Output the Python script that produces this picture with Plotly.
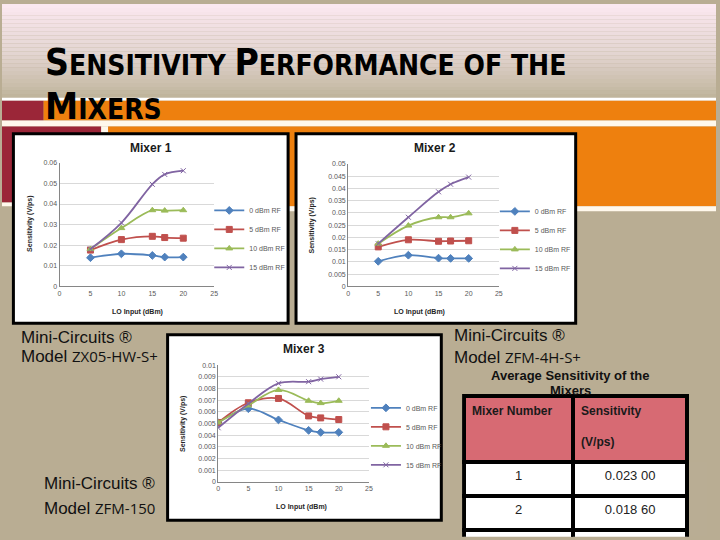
import plotly.graph_objects as go

# ── Data ─────────────────────────────────────────────────────────────────────
LO_INPUT_12 = [5, 10, 15, 17, 20]          # dBm, mixers 1 and 2
LO_INPUT_3 = [0, 5, 10, 15, 17, 20]        # dBm, mixer 3
RF_LABELS = ["0 dBm RF", "5 dBm RF", "10 dBm RF", "15 dBm RF"]

m1_0dbm = [0.0139, 0.0158, 0.0150, 0.0142, 0.0142]
m1_5dbm = [0.0176, 0.0227, 0.0243, 0.0237, 0.0234]
m1_10dbm = [0.0181, 0.0283, 0.0370, 0.0368, 0.0370]
m1_15dbm = [0.0181, 0.0309, 0.0496, 0.0544, 0.0562]

m2_0dbm = [0.0102, 0.0127, 0.0115, 0.0114, 0.0114]
m2_5dbm = [0.0161, 0.0190, 0.0184, 0.0185, 0.0186]
m2_10dbm = [0.0174, 0.0248, 0.0282, 0.0282, 0.0298]
m2_15dbm = [0.0174, 0.0282, 0.0386, 0.0417, 0.0446]

m3_0dbm = [0.00506, 0.00627, 0.00531, 0.00441, 0.00424, 0.00424]
m3_5dbm = [0.00508, 0.00678, 0.00715, 0.00565, 0.00548, 0.00534]
m3_10dbm = [0.00508, 0.00655, 0.00788, 0.00695, 0.00675, 0.00695]
m3_15dbm = [0.00463, 0.00670, 0.00845, 0.00859, 0.00881, 0.00901]

TABLE_MIXER = ["1", "2", ""]
TABLE_SENS = ["0.023 00", "0.018 60", ""]

# ── Styling ──────────────────────────────────────────────────────────────────
W, H = 720, 540
SERIES_STYLE = [
    ("#4F81BD", "diamond", 6),
    ("#C0504D", "square", 6),
    ("#9BBB59", "triangle-up", 6),
    ("#8064A2", "x-thin", 5),
]
TAN = "#B9AD93"
ORANGE = "#EE800E"
MAROON = "#9B2638"
CREAM = "#FFF8EC"
FONT = "Liberation Sans, Arial, sans-serif"
TICK_FONT = dict(family=FONT, size=7, color="#595959")


def px(x):
    return x / W


def py(y):
    return 1 - y / H


def rect(x0, y0, x1, y1, fill, line_color=None, line_width=0):
    return dict(type="rect", xref="paper", yref="paper",
                x0=px(x0), x1=px(x1), y0=py(y1), y1=py(y0),
                fillcolor=fill, layer="below",
                line=dict(color=line_color or fill, width=line_width))


fig = go.Figure()

# ── Traces ───────────────────────────────────────────────────────────────────
charts = [
    (LO_INPUT_12, [m1_0dbm, m1_5dbm, m1_10dbm, m1_15dbm], "x", "y", "legend"),
    (LO_INPUT_12, [m2_0dbm, m2_5dbm, m2_10dbm, m2_15dbm], "x2", "y2", "legend2"),
    (LO_INPUT_3, [m3_0dbm, m3_5dbm, m3_10dbm, m3_15dbm], "x3", "y3", "legend3"),
]
for xs, series, xa, ya, lg in charts:
    for label, ys, (colour, symbol, size) in zip(RF_LABELS, series, SERIES_STYLE):
        fig.add_trace(go.Scatter(
            x=xs, y=ys, name=label, xaxis=xa, yaxis=ya, legend=lg,
            mode="lines+markers",
            line=dict(color=colour, width=1.8, shape="spline"),
            marker=dict(symbol=symbol, size=size, color=colour,
                        line=dict(color=colour, width=1)),
        ))

fig.add_trace(go.Table(
    domain=dict(x=[px(466), px(691)], y=[0, py(397)]),
    columnwidth=[109, 114],
    header=dict(
        values=["<b>Mixer Number</b>", "<b>Sensitivity</b><br><br><b>(V/ps)</b>"],
        fill_color="#D76A73", align="left", height=66,
        line=dict(color="black", width=4),
        font=dict(family=FONT, size=12, color="#1a1a1a"),
    ),
    cells=dict(
        values=[TABLE_MIXER, TABLE_SENS],
        fill_color="white", align="center", height=34,
        line=dict(color="black", width=4),
        font=dict(family=FONT, size=13, color="#222222"),
    ),
))

# ── Axes ─────────────────────────────────────────────────────────────────────
def xaxis(x0, x1, anchor):
    return dict(domain=[px(x0), px(x1)], anchor=anchor, range=[0, 25], dtick=5,
                showgrid=False, showline=True, linecolor="#868686", linewidth=1,
                ticks="", tickfont=TICK_FONT, zeroline=False, fixedrange=True)


def yaxis(y0, y1, top, step, anchor):
    return dict(domain=[py(y1), py(y0)], anchor=anchor, range=[0, top], dtick=step,
                showgrid=True, gridcolor="#D9D9D9", gridwidth=1,
                showline=True, linecolor="#868686", linewidth=1,
                ticks="", tickfont=TICK_FONT, zeroline=False, fixedrange=True)


fig.update_layout(
    xaxis=xaxis(58, 214, "y"),
    yaxis=yaxis(161, 286, 0.06, 0.01, "x"),
    xaxis2=xaxis(349, 501, "y2"),
    yaxis2=yaxis(162, 286, 0.05, 0.005, "x2"),
    xaxis3=xaxis(218, 370, "y3"),
    yaxis3=yaxis(366, 484, 0.01, 0.001, "x3"),
)

legend_style = dict(font=dict(family=FONT, size=7, color="#595959"),
                    bgcolor="rgba(0,0,0,0)", xanchor="left", yanchor="middle",
                    itemwidth=30, tracegroupgap=0)
fig.update_layout(
    legend=dict(x=px(209), y=py(238), **legend_style),
    legend2=dict(x=px(497), y=py(239), **legend_style),
    legend3=dict(x=px(367), y=py(438), **legend_style),
)

# ── Slide background ─────────────────────────────────────────────────────────
shapes = []
top_c, mid_c, bot_c = (251, 232, 240), (228, 214, 210), (190, 179, 153)
band = 4
for y in range(0, 96, band):
    t = y / 95
    if t < 0.5:
        a, b, f = top_c, mid_c, t / 0.5
    else:
        a, b, f = mid_c, bot_c, (t - 0.5) / 0.5
    c = tuple(int(a[i] + (b[i] - a[i]) * f) for i in range(3))
    shapes.append(rect(0, y, W, min(y + band, 96), "rgb(%d,%d,%d)" % c))

shapes += [
    rect(0, 95, W, 98, "white"),
    rect(0, 98, 42, 118, MAROON),
    rect(42, 98, W, 118, ORANGE),
    rect(0, 118, W, 124, CREAM),
    rect(0, 124, 100, 201, MAROON),
    rect(100, 124, 107, 130, CREAM),
    rect(107, 124, W, 205, ORANGE),
    rect(0, 201, 107, 205, CREAM),
    rect(107, 205, W, 210, CREAM),
    # chart frames
    rect(11.5, 131.5, 288.5, 323.5, "white", "black", 3),
    rect(296.5, 131.5, 578.5, 323.5, "white", "black", 3),
    rect(167, 335, 443, 523, "white", "black", 3),
]
fig.update_layout(shapes=shapes)

# ── Text ─────────────────────────────────────────────────────────────────────
ann = []


def text(x, y, s, size=12, color="black", xanchor="left", family=FONT, angle=0):
    ann.append(dict(x=px(x), y=py(y), xref="paper", yref="paper", text=s,
                    showarrow=False, xanchor=xanchor, yanchor="middle",
                    textangle=angle,
                    font=dict(family=family, size=size, color=color)))


TITLE_FONT = "Liberation Sans Narrow, Arial Narrow, DejaVu Sans Condensed, sans-serif"
big = '<span style="font-size:37px">%s</span>'
text(41, 59, "<b>" + big % "S" + "ENSITIVITY " + big % "P" + "ERFORMANCE OF THE</b>",
     size=28, family=TITLE_FONT)
text(41, 104, "<b>" + big % "M" + "IXERS</b>", size=28, family=TITLE_FONT)

for title, cx, cy in [("Mixer 1", 150, 146), ("Mixer 2", 437, 146), ("Mixer 3", 305, 350)]:
    text(cx, cy, "<b>%s</b>" % title, size=12, color="#1a1a1a", xanchor="center")

for cx, cy in [(28, 223), (313, 224), (183, 425)]:
    text(cx, cy, "<b>Sensitivity (V/ps)</b>", size=7, color="#262626",
         xanchor="center", angle=-90)
for cx, cy in [(137, 312), (421, 312), (302, 510)]:
    text(cx, cy, "<b>LO Input (dBm)</b>", size=7, color="#262626", xanchor="center")

for x, y1, y2, model in [(17, 338, 357, "ZX05-HW-S+"),
                         (454, 336, 358, "ZFM-4H-S+"),
                         (40, 486, 511, "ZFM-150")]:
    text(x, y1, "Mini-Circuits ®", size=17, color="#111111")
    text(x, y2, 'Model <span style="font-family:Open Sans;font-size:15px">%s</span>' % model,
         size=17, color="#111111")

text(573, 376, "<b>Average Sensitivity of the</b>", size=13, color="#111111", xanchor="center")
text(573, 392, "<b>Mixers</b>", size=13, color="#111111", xanchor="center")

fig.update_layout(
    annotations=ann,
    width=W, height=H,
    margin=dict(l=0, r=0, t=0, b=0),
    paper_bgcolor=TAN,
    plot_bgcolor="white",
    font=dict(family=FONT),
)

# the slide fills the window edge to edge, so drop the page's default body margin
fig.write_html(
    "out.html",
    config={"displayModeBar": False},
    post_script="document.body.style.margin='0';"
                "document.body.style.overflow='hidden';",
)
